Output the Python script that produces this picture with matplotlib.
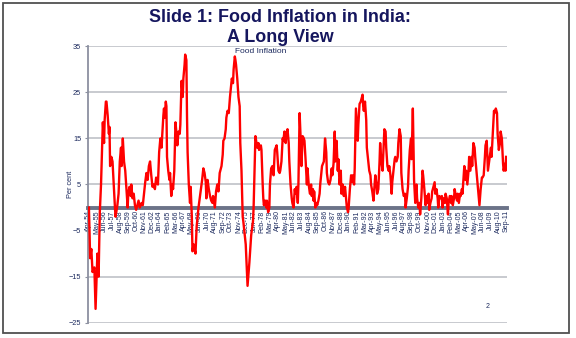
import matplotlib
matplotlib.use("Agg")
import matplotlib.pyplot as plt
from matplotlib.patches import Rectangle

# ---- data (month index counted from Apr-1954, value in per cent) ----
start_year, start_month = 1954, 4
month_idx = [
    0, 1, 2, 4, 6, 9, 11, 14, 16, 18, 20, 23, 25, 26, 28, 29, 31, 33, 34, 35,
    37, 39, 41, 43, 44, 47, 49, 51, 53, 54, 56, 58, 60, 62, 64, 65, 67, 69, 70, 72,
    74, 76, 78, 80, 82, 84, 87, 89, 91, 93, 95, 97, 99, 101, 103, 105, 107, 109, 111, 114,
    116, 118, 120, 121, 123, 124, 125, 127, 128, 129, 131, 133, 134, 136, 138, 139, 141, 143, 144, 146,
    148, 150, 151, 153, 155, 156, 158, 159, 161, 162, 163, 165, 167, 168, 170, 171, 173, 176, 178, 181,
    184, 187, 189, 191, 193, 194, 196, 198, 200, 202, 204, 205, 208, 210, 212, 214, 216, 219, 221, 222,
    224, 226, 227, 229, 231, 233, 236, 238, 239, 241, 242, 243, 245, 247, 249, 250, 252, 254, 255, 259,
    262, 265, 268, 271, 272, 275, 278, 280, 281, 284, 285, 287, 288, 289, 291, 293, 294, 296, 298, 299,
    301, 303, 305, 307, 310, 311, 313, 315, 316, 318, 320, 321, 323, 325, 326, 328, 330, 331, 333, 335,
    336, 338, 340, 341, 343, 345, 346, 348, 350, 351, 353, 355, 356, 358, 360, 361, 363, 365, 367, 368,
    370, 371, 372, 374, 376, 377, 379, 381, 382, 385, 388, 390, 392, 393, 395, 397, 399, 401, 402, 404,
    406, 407, 409, 411, 412, 414, 416, 417, 419, 421, 423, 424, 426, 428, 429, 431, 433, 435, 436, 438,
    439, 441, 443, 444, 445, 447, 449, 450, 452, 453, 454, 456, 458, 459, 461, 463, 465, 466, 468, 470,
    471, 473, 475, 476, 478, 480, 481, 483, 485, 486, 488, 490, 491, 493, 495, 496, 498, 500, 501, 503,
    505, 506, 508, 510, 511, 513, 515, 516, 518, 520, 522, 523, 525, 527, 528, 530, 532, 533, 535, 536,
    537, 539, 541, 542, 544, 546, 547, 549, 551, 552, 554, 556, 557, 559, 561, 562, 564, 566, 567, 569,
    571, 572, 574, 576, 577, 579, 581, 583, 584, 586, 588, 589, 591, 593, 594, 596, 598, 599, 601, 603,
    604, 606, 608, 609, 611, 613, 614, 616, 617, 618, 620, 622, 623, 625, 627, 628, 630, 632, 633, 635,
    637, 638, 640, 642, 644, 645, 647, 649, 650, 652, 654, 655, 657, 659, 660, 662, 664, 665, 667, 669,
    670, 672, 674, 675, 677, 679, 680, 682, 684, 685, 687, 688, 689,
]
food_inflation = [
    0, -5, -11, -9, -14, -13, -22, -10, -15, -1, 5, 18.5, 14, 19, 23, 23, 20, 16, 17.5, 9,
    11, 10, 5, 0, -2, 0.5, 3, 10, 13, 9, 15, 10, 8, 4, 0, 3, 4.5, 2.5, 5, 2,
    3, 0.5, -0.5, 0.5, 1.5, 0, 1, 0.5, 3, 5.5, 7.5, 6, 9, 10, 7, 4.5, 5, 4, 6.5, 5,
    12, 15, 13, 15.5, 20, 21.5, 19.5, 23, 22, 11, 8, 6, 7.5, 2.5, 5, 4, 8, 18.5, 17, 13.5,
    16.5, 16, 18, 27.5, 24, 28, 31, 33.2, 32, 20, 12, 5, 1, 4.5, -2, -9.5, -8, -10, -4, 0,
    3, 6, 8.5, 7.5, 5.5, 2, 6, 4, 2.5, 1.5, 1, 2.5, 0, 3.5, 5, 3.5, 7.5, 9, 11.5, 14.5,
    15, 17, 19.5, 21, 20.5, 24, 28, 27, 30, 32.8, 32, 31, 28, 24, 22, 14, 8, -2, -3, -8,
    -17, -12, -6, -3, 0, 15.5, 13, 14, 12.5, 13.5, 12.5, 5, 2, 0.5, 1.5, 0, 1.5, -1, 0, 5,
    8.5, 9, 7, 12.5, 13.5, 12, 8, 7.5, 8, 10, 15, 14.5, 16.5, 14, 16, 17, 14, 10, 5, 2,
    1, 0, 4, 3, 4.5, 1, 5, 20.5, 14, 9, 15.5, 15, 14.5, 10, 5, 8.5, 5, 3, 5, 2.5,
    4, 1.5, 3.5, 0, 1, 0.5, 1.5, 3, 5, 9, 10, 15, 12, 7.5, 5.5, 5, 6, 8.5, 7, 9.5,
    16.5, 10, 14.5, 8, 10.5, 5, 8, 3, 5, 2.5, 4.5, 3, 0, -1, 0, 4, 7, 5.5, 7, 5,
    8.5, 21.5, 17, 14.5, 18, 22.5, 23, 23.5, 24.5, 22, 21, 23, 19, 13, 10.5, 8, 7, 5, 3.5, 1.5,
    3.5, 7, 5, 3, 4, 10, 14, 10, 8, 11, 17, 16.5, 13, 9, 8, 9, 7, 3, 5.5, 8,
    10.5, 11, 10, 11, 14, 17, 15.5, 7.5, 4, 2.5, 3, 0, 2, 4.5, 8, 12.5, 15, 10.5, 21.5, 13,
    6, 1, 5, 2, 0, 1, -1.5, 2, 8, 7, 4, 0.5, 2.5, 1, 3, -0.5, 1, 2, 3.5, 4.5,
    5.5, 3, 4, 2, 0, 2.5, 2, 2.5, 0, 2, 1, 3, 2, -1.5, 1, 2.5, 1, 2.5, 0.5, 2,
    4, 2.5, 1.5, 3, 1, 3, 2.5, 4, 3, 5, 9, 6, 8, 5, 8, 11, 8, 11, 9, 14,
    13, 11, 8, 5, 2, 0.5, 4, 6.5, 6.5, 7, 11, 13.5, 14.5, 8, 9, 11, 13, 11, 16, 21,
    20.5, 21.5, 20.5, 16, 12.5, 14, 16.5, 15, 9.5, 8, 9.5, 8, 11,
]
tick_labels = [
    "Apr-54", "May-55", "Jun-56", "Jul-57", "Aug-58", "Sep-59", "Oct-60", "Nov-61",
    "Dec-62", "Jan-64", "Feb-65", "Mar-66", "Apr-67", "May-68", "Jun-69", "Jul-70",
    "Aug-71", "Sep-72", "Oct-73", "Nov-74", "Dec-75", "Jan-77", "Feb-78", "Mar-79",
    "Apr-80", "May-81", "Jun-82", "Jul-83", "Aug-84", "Sep-85", "Oct-86", "Nov-87",
    "Dec-88", "Jan-90", "Feb-91", "Mar-92", "Apr-93", "May-94", "Jun-95", "Jul-96",
    "Aug-97", "Sep-98", "Oct-99", "Nov-00", "Dec-01", "Jan-03", "Feb-04", "Mar-05",
    "Apr-06", "May-07", "Jun-08", "Jul-09", "Aug-10", "Sep-11",
]
y_ticks = [-25, -15, -5, 5, 15, 25, 35]

MONTHS = ["Jan", "Feb", "Mar", "Apr", "May", "Jun", "Jul", "Aug", "Sep", "Oct", "Nov", "Dec"]


def label_to_index(lab):
    mon, yy = lab.split("-")
    yy = int(yy)
    year = 1900 + yy if yy >= 50 else 2000 + yy
    return (year - start_year) * 12 + MONTHS.index(mon) + 1 - start_month


tick_pos = [label_to_index(l) for l in tick_labels]

# ---- styling ----
plt.rcParams["font.family"] = ["Liberation Sans", "DejaVu Sans"]
navy = "#1c2a5e"
W, H = 576, 338
fig = plt.figure(figsize=(W / 100, H / 100), dpi=100)
fig.patch.set_facecolor("white")

# slide frame
fig.patches.append(Rectangle((3 / W, 1 - 332.5 / H), 566 / W, 329.5 / H,
                             transform=fig.transFigure, fill=False,
                             edgecolor="#505050", linewidth=1.3))

ax = fig.add_axes([88 / W, 1 - 322.7 / H, 419 / W, 276.4 / H])
ax.set_facecolor("white")

for s in ("top", "right"):
    ax.spines[s].set_visible(False)
ax.spines["left"].set_color("#8c90a0")
ax.spines["left"].set_linewidth(1.3)
ax.spines["bottom"].set_position(("data", 0))
ax.spines["bottom"].set_color("#6b7388")
ax.spines["bottom"].set_linewidth(2.8)
ax.spines["bottom"].set_zorder(3)

ax.plot(month_idx, food_inflation, color="#ff0000", linewidth=1.7,
        solid_joinstyle="round", zorder=4)

ax.set_xlim(-1.5, 690.5)
ax.set_ylim(-25, 35)
ax.set_yticks(y_ticks)
ax.set_xticks(tick_pos)
ax.set_xticklabels(tick_labels)
for lab in ax.get_xticklabels():
    lab.set_rotation(90)
    lab.set_fontsize(5)
    lab.set_color(navy)
ax.tick_params(axis="x", length=0, pad=2)
ax.tick_params(axis="y", length=2.5, width=0.8, color="#8c90a0",
               labelsize=5.3, labelcolor=navy, pad=2.5)

ax.grid(axis="y", color="#c4c6cc", linewidth=1.3, zorder=0)
for gl, t in zip(ax.yaxis.get_gridlines(), y_ticks):
    if t == -5:
        gl.set_visible(False)
ax.set_axisbelow(True)

fig.text(70 / W, 1 - 184.5 / H, "Per cent", rotation=90, fontsize=5.3,
         color=navy, ha="center", va="center")

# titles
fig.text(280 / W, 1 - 21.7 / H, "Slide 1: Food Inflation in India:", fontsize=12.9,
         fontweight="bold", color="#15165e", ha="center", va="baseline")
fig.text(280 / W, 1 - 42 / H, "A Long View", fontsize=12.9,
         fontweight="bold", color="#15165e", ha="center", va="baseline")
fig.text(260.5 / W, 1 - 53.3 / H, "Food Inflation", fontsize=6,
         color=navy, ha="center", va="baseline")
fig.text(488 / W, 1 - 307 / H, "2", fontsize=5, color=navy,
         ha="center", va="center")

fig.savefig("out.png", dpi=100, facecolor="white")
